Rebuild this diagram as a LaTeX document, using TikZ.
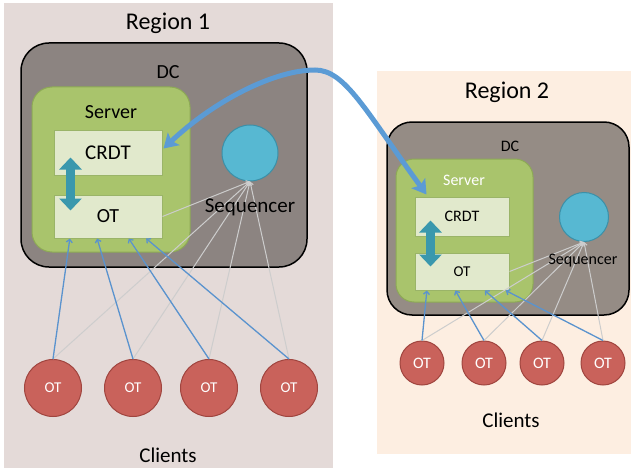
\documentclass[tikz,border=0pt]{standalone}
\usepackage{fontspec}
\setmainfont{Carlito}
\usetikzlibrary{arrows.meta,calc,positioning}

\definecolor{regiona}{HTML}{E4DAD8}
\definecolor{regionb}{HTML}{FDEEE1}
\definecolor{dcgray}{HTML}{8C8481}
\definecolor{dcgrayb}{HTML}{958C85}
\definecolor{srvgreen}{HTML}{A9C46C}
\definecolor{srvedge}{HTML}{8DAA55}
\definecolor{boxfill}{HTML}{E1E9CC}
\definecolor{boxedge}{HTML}{9AB468}
\definecolor{syncteal}{HTML}{3A98AD}
\definecolor{seqblue}{HTML}{57B8D2}
\definecolor{seqedge}{HTML}{3B90A8}
\definecolor{clientred}{HTML}{C9625B}
\definecolor{clientedge}{HTML}{A0453F}
\definecolor{linkblue}{HTML}{5A93CE}
\definecolor{seqgray}{HTML}{CDCDCD}
\definecolor{bigblue}{HTML}{5B9BD5}

\newcommand\pxfont[1]{\fontsize{#1}{#1}\selectfont}

\begin{document}
\begin{tikzpicture}[x=1pt, y=-1pt,
        dcbox/.style={draw=black, line width=1.5pt, fill=#1, rounded corners=28pt},
        srvbox/.style={draw=srvedge, line width=1pt, fill=srvgreen, rounded corners=#1},
        part/.style={draw=boxedge, line width=1pt, fill=boxfill, inner sep=0pt},
        seq/.style={circle, draw=seqedge, line width=1pt, fill=seqblue, inner sep=0pt, minimum size=#1},
        client/.style={circle, draw=clientedge, line width=1pt, fill=clientred, text=white, inner sep=0pt, minimum size=#1},
        tocore/.style={draw=linkblue, line width=1.3pt, -{Straight Barb[length=3pt,width=6pt]}},
        toseq/.style={draw=seqgray, line width=1pt, -{Straight Barb[length=3pt,width=5pt]}},
        sync/.style={draw=syncteal, line width=9pt, {Triangle[width=22pt,length=12pt]}-{Triangle[width=22pt,length=12pt]}},
        bigarrow/.style={draw=bigblue, line width=5pt, {Stealth[length=14pt,width=17pt,inset=3pt]}-{Stealth[length=14pt,width=17pt,inset=3pt]}}]
        \useasboundingbox (0,0) rectangle (631,468);
        % regions
        \fill[regiona] (4,3) rectangle (333,468);
        \fill[regionb] (377,71) rectangle (631,454);
        \node[font=\pxfont{24}] (titleA) at (168,23) {Region 1};
        \node[font=\pxfont{24}] (titleB) at (507,92) {Region 2};

        % region 1
        \node[dcbox=dcgray, minimum width=286pt, minimum height=224pt] (dcA) at (164,155) {};
        \node[font=\pxfont{20}] (dcAlabel) at (168,72) {DC};
        \node[srvbox=20pt, minimum width=158pt, minimum height=165pt] (srvA) at (111,169.5) {};
        \node[font=\pxfont{20}] (srvAlabel) at (111,112) {Server};
        \node[part, minimum width=108pt, minimum height=45pt, font=\pxfont{21}] (crdtA) at (108,152.5) {CRDT};
        \node[part, minimum width=108pt, minimum height=43pt, font=\pxfont{20}] (otA) at (108,216.5) {OT};
        \draw[sync] ($(crdtA.west)+(17,5)$) -- ($(otA.west)+(17,-6)$);
        \node[seq=56pt] (seqA) at (250,153) {};
        \foreach \x [count=\i] in {53,133,209,289}
            \node[client=57pt, font=\pxfont{15}] (cA\i) at (\x,388) {OT};
        \draw[toseq] (otA.east) -- (seqA.south);
        \foreach \i in {1,...,4}
            \draw[toseq] (cA\i.north) -- (seqA.south);
        \foreach \i/\f in {1/0.15,2/0.4,3/0.69,4/0.85}
            \draw[tocore] (cA\i.north) -- ($(otA.south west)!\f!(otA.south east)$);
        \node[font=\pxfont{21}] (seqAlabel) at (250,207) {Sequencer};
        \node[font=\pxfont{21}, inner sep=1pt] (clientsA) at (168,455) {Clients};

        % region 2
        \node[dcbox=dcgrayb, rounded corners=25pt, minimum width=242pt, minimum height=193pt] (dcB) at (508,218.5) {};
        \node[font=\pxfont{16}] (dcBlabel) at (510,146) {DC};
        \node[srvbox=18pt, minimum width=137pt, minimum height=143pt] (srvB) at (464.5,230.5) {};
        \node[font=\pxfont{16}, text=white] (srvBlabel) at (464,180) {Server};
        \node[part, minimum width=94pt, minimum height=39pt, font=\pxfont{16}] (crdtB) at (462,216.5) {CRDT};
        \node[part, minimum width=94pt, minimum height=37pt, font=\pxfont{15}] (otB) at (462,271.5) {OT};
        \draw[sync] ($(crdtB.west)+(16,4)$) -- ($(otB.west)+(16,-5)$);
        \node[seq=49pt] (seqB) at (584,217) {};
        \foreach \x [count=\i] in {422,484,542,603}
            \node[client=44pt, font=\pxfont{16}] (cB\i) at (\x,363) {OT};
        \draw[toseq] (otB.east) -- (seqB.south);
        \foreach \i in {1,...,4}
            \draw[toseq] (cB\i.north) -- (seqB.south);
        \foreach \i/\f in {1/0.13,2/0.43,3/0.74,4/0.96}
            \draw[tocore] (cB\i.north) -- ($(otB.south west)!\f!(otB.south east)$);
        \node[font=\pxfont{16}] (seqBlabel) at (583,261) {Sequencer};
        \node[font=\pxfont{21}] (clientsB) at (511,420) {Clients};

        % replication between the two servers
        \draw[bigarrow] ($(crdtA.east)+(1,-4)$) .. controls (215,100) and (275,70) .. (315,70)
                .. controls (345,70) and (365,110) .. ($(crdtB.north west)+(12,-2)$);
\end{tikzpicture}
\end{document}
